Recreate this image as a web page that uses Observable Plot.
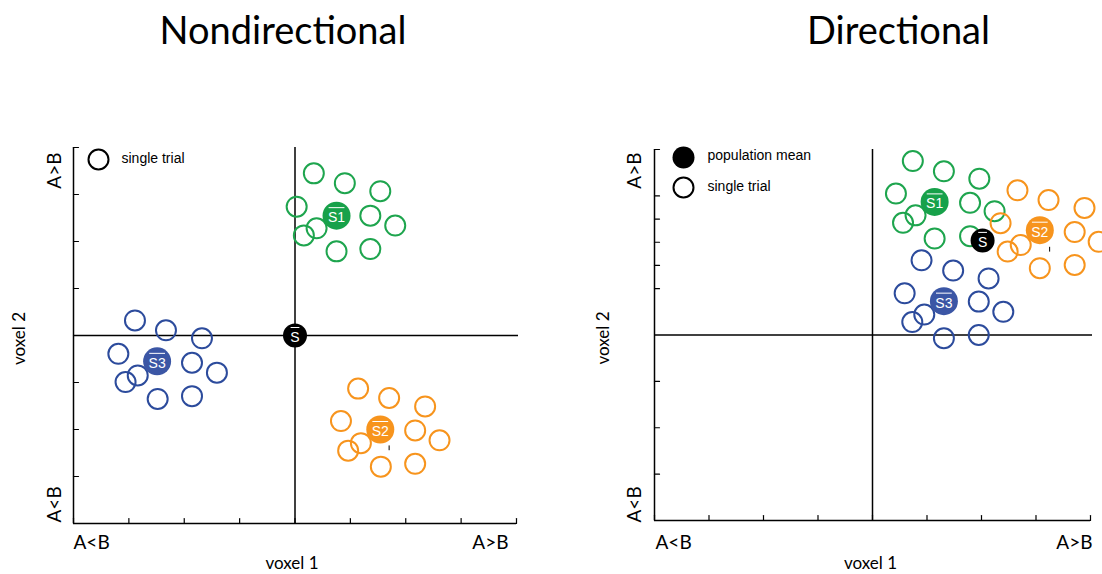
<!DOCTYPE html>
<html>
<head>
<meta charset="utf-8">
<script src="https://cdn.jsdelivr.net/npm/d3@7"></script>
<script src="https://cdn.jsdelivr.net/npm/@observablehq/plot@0.6"></script>
<style>
  html, body { margin: 0; padding: 0; background: #fff; }
  #wrap { display: flex; width: 1102px; height: 574px; overflow: hidden; }
  #wrap svg { overflow: visible; }
</style>
</head>
<body>
<div id="wrap"></div>
<script>
// ---------- data ----------
const titles = ["Nondirectional", "Directional"];
const axisLabels = {low: "A<B", high: "A>B", x: "voxel 1", y: "voxel 2"};
const legendLeft = ["single trial"];
const legendRightMean = ["population mean"];
const legendRightTrial = ["single trial"];

// Nondirectional panel: single trials [voxel1, voxel2]
const ndGreen = [[0.34,3.45],[0.90,3.24],[1.54,3.07],[0.03,2.74],[1.36,2.55],[1.81,2.34],[0.16,2.13],[0.39,2.28],[0.75,1.79],[1.36,1.84]];
const ndOrange = [[1.14,-1.13],[1.70,-1.33],[2.35,-1.51],[0.83,-1.82],[2.17,-2.02],[2.61,-2.23],[0.96,-2.45],[1.19,-2.29],[1.55,-2.79],[2.17,-2.73]];
const ndBlue = [[-2.89,0.32],[-2.33,0.11],[-1.68,-0.06],[-3.19,-0.39],[-1.86,-0.58],[-1.41,-0.79],[-3.06,-0.99],[-2.84,-0.85],[-2.48,-1.35],[-1.86,-1.29]];
const ndMeans = [
  {label: "S1", group: "green", x: 0.75, y: 2.55},
  {label: "S2", group: "orange", x: 1.54, y: -2.0},
  {label: "S3", group: "blue", x: -2.49, y: -0.55}
];
const ndPop = [{label: "S", x: 0, y: 0}];
const ndMark = [[1.70, -2.39]];

// Directional panel
const dGreen = [[0.74,3.75],[1.31,3.53],[1.96,3.37],[0.43,3.05],[1.79,2.85],[2.24,2.67],[0.56,2.42],[0.79,2.58],[1.14,2.08],[1.79,2.13]];
const dOrange = [[2.66,3.12],[3.23,2.91],[3.89,2.74],[2.35,2.41],[3.71,2.22],[4.15,2.01],[2.48,1.80],[2.72,1.94],[3.07,1.44],[3.71,1.51]];
const dBlue = [[0.90,1.61],[1.48,1.39],[2.13,1.22],[0.59,0.90],[1.95,0.72],[2.40,0.50],[0.73,0.28],[0.95,0.44],[1.31,-0.07],[1.95,0.0]];
const dMeans = [
  {label: "S1", group: "green", x: 1.14, y: 2.87},
  {label: "S2", group: "orange", x: 3.07, y: 2.26},
  {label: "S3", group: "blue", x: 1.31, y: 0.73}
];
const dPop = [{label: "S", x: 2.02, y: 2.04}];
const dMark = [[3.25, 1.85]];

const domain = [-4, 4];
const xTicksL = [-4,-3,-2,-1,0,1,2,3,4];
const yTicksL = [-4,-3,-2,-1,0,1,2,3,4];
const xTicksR = [-4,-3,-2,-1,0,1,2,3,4];
const yTicksR = [-4,-3,-2,-1,1,1.5,2,2.5,3,4];

// ---------- styles ----------
const strokeCol = {green: "#1ea54e", orange: "#f7941d", blue: "#2c4b9c"};
const fillCol = {green: "#17a14a", orange: "#f7941d", blue: "#3b56a5"};
const serif = "Lato, 'Open Sans', sans-serif";
const sans = "'Liberation Sans', Arial, sans-serif";
const line = {draw(ctx, l) { ctx.moveTo(0, 0); ctx.lineTo(0, -l); }};

function panel(cfg) {
  const marks = [
    // axes lines
    Plot.ruleX([domain[0]], {stroke: "black", strokeWidth: 1.5}),
    Plot.ruleY([domain[0]], {stroke: "black", strokeWidth: 1.5}),
    Plot.ruleX([0], {stroke: "black", strokeWidth: 1.5}),
    Plot.ruleY([0], {stroke: "black", strokeWidth: 1.5, insetRight: -2}),
    // inward ticks
    Plot.vector(cfg.xTicks, {x: d => d, y: domain[0], length: 5, rotate: 0, anchor: "start", shape: line, stroke: "black", strokeWidth: 1.2}),
    Plot.vector(cfg.yTicks, {x: domain[0], y: d => d, length: 5, rotate: 90, anchor: "start", shape: line, stroke: "black", strokeWidth: 1.2}),
    // single trials
    Plot.dot(cfg.green, {r: 10, stroke: strokeCol.green, strokeWidth: 2, fill: "none"}),
    Plot.dot(cfg.orange, {r: 10, stroke: strokeCol.orange, strokeWidth: 2, fill: "none"}),
    Plot.dot(cfg.blue, {r: 10, stroke: strokeCol.blue, strokeWidth: 2, fill: "none"}),
    // stray mark
    Plot.vector(cfg.mark, {length: 4, rotate: 0, anchor: "middle", shape: line, stroke: "black", strokeWidth: 1}),
    // means
    Plot.dot(cfg.means, {x: "x", y: "y", r: 14, fill: d => fillCol[d.group]}),
    Plot.dot(cfg.pop, {x: "x", y: "y", r: 12, fill: "black"}),
    Plot.text(cfg.means.concat(cfg.pop), {x: "x", y: "y", text: "label", fill: "white", fontSize: 14, fontFamily: sans, dy: 2}),
    // overlines of the mean labels
    Plot.vector(cfg.means, {x: "x", y: "y", length: 15, rotate: 90, anchor: "middle", shape: line, stroke: "white", strokeWidth: 1, dy: -8}),
    Plot.vector(cfg.pop, {x: "x", y: "y", length: 8, rotate: 90, anchor: "middle", shape: line, stroke: "white", strokeWidth: 1, dy: -8}),
    // title
    Plot.text([cfg.title], {frameAnchor: "top", dx: cfg.titleDx, dy: cfg.titleDy, lineAnchor: "bottom", fontSize: 38, fontFamily: serif, fill: "black"}),
    // axis end labels
    Plot.text([axisLabels.high], {frameAnchor: "top-left", rotate: -90, textAnchor: "end", lineAnchor: "middle", dx: cfg.yLabDx, dy: cfg.yTopDy, fontSize: 19, fontFamily: serif, fill: "black"}),
    Plot.text([axisLabels.low], {frameAnchor: "bottom-left", rotate: -90, textAnchor: "start", lineAnchor: "middle", dx: cfg.yLabDx, dy: cfg.yBotDy, fontSize: 19, fontFamily: serif, fill: "black"}),
    Plot.text([axisLabels.y], {frameAnchor: "left", rotate: -90, textAnchor: "middle", lineAnchor: "middle", dx: cfg.yTitleDx, dy: 3, fontSize: 17, fontFamily: serif, fill: "black"}),
    Plot.text([axisLabels.low], {frameAnchor: "bottom-left", textAnchor: "start", lineAnchor: "bottom", dx: cfg.xLowDx, dy: cfg.xLabDy, fontSize: 19, fontFamily: serif, fill: "black"}),
    Plot.text([axisLabels.high], {frameAnchor: "bottom-right", textAnchor: "end", lineAnchor: "bottom", dx: cfg.xHighDx, dy: cfg.xLabDy, fontSize: 19, fontFamily: serif, fill: "black"}),
    Plot.text([axisLabels.x], {frameAnchor: "bottom", textAnchor: "middle", lineAnchor: "bottom", dx: cfg.xTitleDx, dy: cfg.xTitleDy, fontSize: 17, fontFamily: serif, fill: "black"}),
    ...cfg.legend
  ];
  return Plot.plot({
    width: 551, height: 574,
    marginLeft: cfg.m[3], marginRight: cfg.m[1], marginTop: cfg.m[0], marginBottom: cfg.m[2],
    x: {domain, axis: null},
    y: {domain, axis: null},
    style: {background: "white", overflow: "visible"},
    marks
  });
}

const left = panel({
  m: [147, 35, 51, 73],
  xTicks: xTicksL, yTicks: yTicksL,
  green: ndGreen, orange: ndOrange, blue: ndBlue, means: ndMeans, pop: ndPop, mark: ndMark,
  title: titles[0], titleDx: -12, titleDy: -104,
  yLabDx: -19, yTopDy: 5, yBotDy: -1, yTitleDx: -54,
  xLowDx: 0, xHighDx: -8, xLabDy: 25, xTitleDx: -3, xTitleDy: 45,
  legend: [
    Plot.dot([0], {frameAnchor: "top-left", dx: 25, dy: 12, r: 10, stroke: "black", strokeWidth: 2, fill: "none"}),
    Plot.text(legendLeft, {frameAnchor: "top-left", dx: 48, dy: 11, textAnchor: "start", lineAnchor: "middle", fontSize: 14, fontFamily: sans, fill: "black"})
  ]
});

const right = panel({
  m: [149, 12, 54, 103],
  xTicks: xTicksR, yTicks: yTicksR,
  green: dGreen, orange: dOrange, blue: dBlue, means: dMeans, pop: dPop, mark: dMark,
  title: titles[1], titleDx: 26, titleDy: -106,
  yLabDx: -20, yTopDy: 3, yBotDy: 2, yTitleDx: -51,
  xLowDx: 1, xHighDx: 2, xLabDy: 28, xTitleDx: -2, xTitleDy: 48,
  legend: [
    Plot.dot([0], {frameAnchor: "top-left", dx: 29, dy: 8, r: 11, fill: "black"}),
    Plot.dot([0], {frameAnchor: "top-left", dx: 29, dy: 38, r: 10, stroke: "black", strokeWidth: 2, fill: "none"}),
    Plot.text(legendRightMean, {frameAnchor: "top-left", dx: 53, dy: 6, textAnchor: "start", lineAnchor: "middle", fontSize: 14, fontFamily: sans, fill: "black"}),
    Plot.text(legendRightTrial, {frameAnchor: "top-left", dx: 53, dy: 37, textAnchor: "start", lineAnchor: "middle", fontSize: 14, fontFamily: sans, fill: "black"})
  ]
});

document.getElementById("wrap").append(left, right);
</script>
</body>
</html>
